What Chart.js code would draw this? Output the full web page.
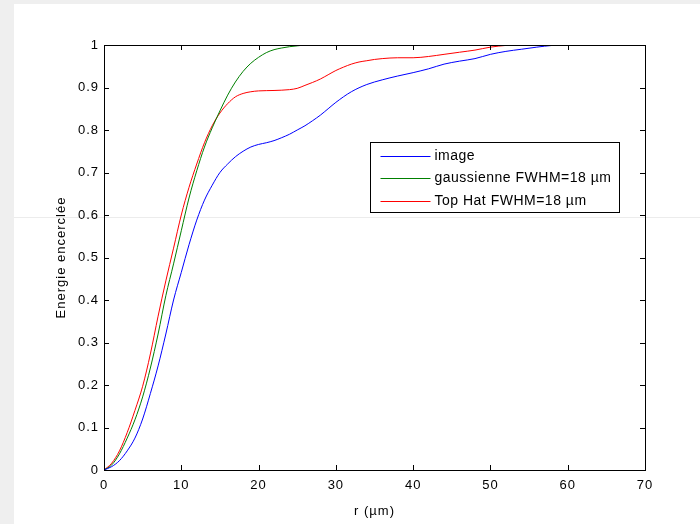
<!DOCTYPE html>
<html>
<head>
<meta charset="utf-8">
<script src="https://cdn.jsdelivr.net/npm/chart.js@4/dist/chart.umd.min.js"></script>
<style>
  html, body { margin: 0; padding: 0; background: #fff; }
  #wrap { width: 700px; height: 524px; }
</style>
</head>
<body>
<div id="wrap"><canvas id="chart" width="700" height="524"></canvas></div>
<script>
// Energie encerclée en fonction du rayon r (µm)
const imageR = [0, 1, 2, 3, 4, 5, 6, 7, 8, 9, 10, 11, 12, 13, 14, 15, 16, 17, 18, 19, 20, 21, 22, 23, 24, 25, 26, 27, 28, 29, 30, 32, 34, 36, 38, 40, 42, 44, 46, 48, 50, 52, 54, 56, 58, 59];
const imageV = [0, 0.008, 0.022, 0.045, 0.075, 0.12, 0.18, 0.245, 0.32, 0.4, 0.465, 0.53, 0.588, 0.635, 0.67, 0.70, 0.72, 0.737, 0.75, 0.76, 0.766, 0.77, 0.775, 0.782, 0.79, 0.80, 0.81, 0.822, 0.835, 0.85, 0.865, 0.89, 0.907, 0.918, 0.927, 0.935, 0.944, 0.955, 0.962, 0.968, 0.978, 0.985, 0.99, 0.995, 0.999, 1.0];

const gaussR = [0, 1, 2, 3, 4, 5, 6, 7, 8, 9, 10, 11, 12, 13, 14, 15, 16, 17, 18, 19, 20, 21, 22, 23, 24, 25, 26];
const gaussV = [0, 0.012, 0.038, 0.075, 0.118, 0.172, 0.24, 0.32, 0.41, 0.485, 0.563, 0.64, 0.704, 0.76, 0.805, 0.845, 0.882, 0.913, 0.938, 0.957, 0.971, 0.982, 0.989, 0.993, 0.996, 0.998, 1.0];

const topHatR = [0, 1, 2, 3, 4, 5, 6, 7, 8, 9, 10, 11, 12, 13, 14, 15, 16, 17, 18, 19, 20, 22, 24, 25, 26, 27, 28, 29, 30, 31, 32, 33, 34, 35, 36, 38, 40, 42, 44, 46, 48, 50, 52, 53];
const topHatV = [0, 0.016, 0.045, 0.088, 0.14, 0.197, 0.273, 0.362, 0.445, 0.522, 0.6, 0.665, 0.72, 0.77, 0.81, 0.84, 0.862, 0.878, 0.886, 0.89, 0.892, 0.893, 0.895, 0.898, 0.905, 0.912, 0.92, 0.93, 0.94, 0.948, 0.955, 0.96, 0.963, 0.966, 0.968, 0.97, 0.97, 0.973, 0.978, 0.983, 0.988, 0.995, 0.999, 1.0];

const seriesNames = ["image", "gaussienne FWHM=18 µm", "Top Hat FWHM=18 µm"];
const seriesColors = ["#0000ff", "#008000", "#ff0000"];

const xTicks = [0, 10, 20, 30, 40, 50, 60, 70];
const yTicks = [0, 0.1, 0.2, 0.3, 0.4, 0.5, 0.6, 0.7, 0.8, 0.9, 1];

const toPoints = (rs, vs) => rs.map((r, i) => ({ x: r, y: vs[i] }));

const FONT = "'Liberation Sans', Arial, Helvetica, sans-serif";
const SPACING = '1px';

// fond de la diapo + cadre, graduations intérieures et légende façon MATLAB
const matlabLook = {
  id: 'matlabLook',
  beforeInit(chart) { chart.ctx.letterSpacing = SPACING; },
  beforeDraw(chart) {
    const ctx = chart.ctx;
    ctx.save();
    ctx.fillStyle = '#efefef';
    ctx.fillRect(0, 0, chart.width, chart.height);
    ctx.fillStyle = '#ffffff';
    ctx.fillRect(14, 4, chart.width - 14, chart.height - 4);
    ctx.strokeStyle = '#ececec';
    ctx.lineWidth = 1;
    ctx.beginPath();
    ctx.moveTo(14, 217.5);
    ctx.lineTo(chart.width, 217.5);
    ctx.stroke();
    ctx.restore();
    ctx.letterSpacing = SPACING;
  },
  afterDraw(chart) {
    const { ctx, chartArea: a, scales } = chart;
    ctx.save();
    ctx.strokeStyle = '#000';
    ctx.lineWidth = 1;
    ctx.strokeRect(Math.round(a.left) + 0.5, Math.round(a.top) + 0.5,
                   Math.round(a.right - a.left), Math.round(a.bottom - a.top));
    ctx.beginPath();
    const len = 5;
    scales.x.ticks.forEach(t => {
      const px = Math.round(scales.x.getPixelForValue(t.value)) + 0.5;
      ctx.moveTo(px, a.bottom); ctx.lineTo(px, a.bottom - len);
      ctx.moveTo(px, a.top); ctx.lineTo(px, a.top + len);
    });
    scales.y.ticks.forEach(t => {
      const py = Math.round(scales.y.getPixelForValue(t.value)) + 0.5;
      ctx.moveTo(a.left, py); ctx.lineTo(a.left + len, py);
      ctx.moveTo(a.right, py); ctx.lineTo(a.right - len, py);
    });
    ctx.stroke();

    // légende
    const bx = 370.5, by = 142.5, bw = 249, bh = 70;
    ctx.fillStyle = '#fff';
    ctx.fillRect(bx, by, bw, bh);
    ctx.strokeRect(bx, by, bw, bh);
    ctx.save();
    ctx.beginPath();
    ctx.rect(bx, by, bw, bh);
    ctx.clip();
    ctx.font = '14px ' + FONT;
    ctx.letterSpacing = '0.5px';
    ctx.textBaseline = 'middle';
    ctx.lineWidth = 1;
    chart.data.datasets.forEach((ds, i) => {
      const y = Math.round(by + 13 + i * 22.6) + 0.5;
      ctx.strokeStyle = ds.borderColor;
      ctx.beginPath();
      ctx.moveTo(bx + 10, y); ctx.lineTo(bx + 60, y);
      ctx.stroke();
      ctx.fillStyle = '#000';
      ctx.fillText(ds.label, bx + 64, y);
    });
    ctx.restore();
    ctx.restore();
  }
};

const ctx = document.getElementById('chart');
new Chart(ctx, {
  type: 'line',
  data: {
    datasets: [
      { label: seriesNames[0], data: toPoints(imageR, imageV), borderColor: seriesColors[0] },
      { label: seriesNames[1], data: toPoints(gaussR, gaussV), borderColor: seriesColors[1] },
      { label: seriesNames[2], data: toPoints(topHatR, topHatV), borderColor: seriesColors[2] }
    ].map(d => Object.assign(d, { borderWidth: 1, pointRadius: 0, fill: false, cubicInterpolationMode: 'monotone' }))
  },
  options: {
    responsive: false,
    animation: false,
    layout: { padding: { top: 45, right: 55, left: 0, bottom: 0 } },
    plugins: { legend: { display: false }, tooltip: { enabled: false } },
    scales: {
      x: {
        type: 'linear', min: 0, max: 70,
        afterBuildTicks: s => { s.ticks = xTicks.map(v => ({ value: v })); },
        afterFit: s => { s.height = 54; },
        grid: { display: false, drawTicks: false },
        border: { display: false },
        ticks: { color: '#000', padding: 8, font: { family: FONT, size: 13 }, callback: v => String(v) },
        title: { display: true, text: 'r (µm)', color: '#000', font: { family: FONT, size: 13 }, padding: { top: 0, bottom: 5 } }
      },
      y: {
        type: 'linear', min: 0, max: 1,
        afterBuildTicks: s => { s.ticks = yTicks.map(v => ({ value: v })); },
        afterFit: s => { s.width = 104; },
        grid: { display: false, drawTicks: false },
        border: { display: false },
        ticks: { color: '#000', padding: 5, font: { family: FONT, size: 13 }, callback: v => String(v) },
        title: { display: true, text: 'Energie encerclée', color: '#000', font: { family: FONT, size: 13 }, padding: { top: 54, bottom: 0 } }
      }
    }
  },
  plugins: [matlabLook]
});
</script>
</body>
</html>
